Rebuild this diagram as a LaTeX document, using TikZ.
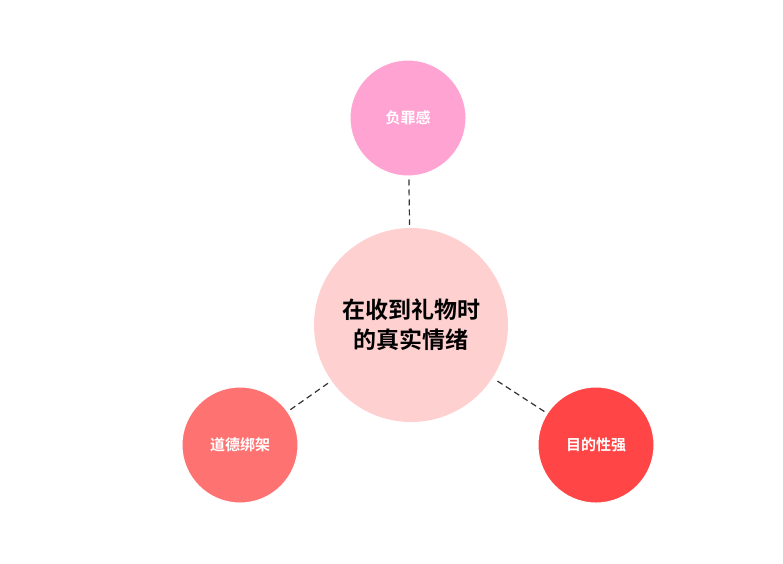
\documentclass[tikz,border=0pt]{standalone}
\usepackage{fontspec}
\newfontfamily\cjk{Noto Sans CJK SC Bold}
\definecolor{cc}{HTML}{FFD0D0}
\definecolor{ct}{HTML}{FFA3D3}
\definecolor{cl}{HTML}{FF7272}
\definecolor{cr}{HTML}{FF4545}
\begin{document}
\begin{tikzpicture}[x=1pt,y=-1pt,
  small/.style={circle,draw=white,line width=1pt,minimum size=116pt,inner sep=0pt,text=white,font=\cjk\fontsize{15}{18}\selectfont},
  link/.style={dashed,line width=1.2pt,draw=black!80,dash pattern=on 6pt off 4pt,shorten <=3pt,shorten >=3pt}]
\useasboundingbox (0,0) rectangle (783,563);
\fill[white] (0,0) rectangle (783,563);
\node[circle,fill=cc,minimum size=194pt,inner sep=0pt,align=center,font=\cjk\fontsize{23}{30}\selectfont] (c) at (411,325) {在收到礼物时\\的真实情绪};
\node[small,fill=ct] (t) at (408,118) {负罪感};
\node[small,fill=cl] (l) at (240,445) {道德绑架};
\node[small,fill=cr] (r) at (596,445) {目的性强};
\draw[link] (t) -- (c);
\draw[link] (l) -- (c);
\draw[link] (r) -- (c);
\end{tikzpicture}
\end{document}
